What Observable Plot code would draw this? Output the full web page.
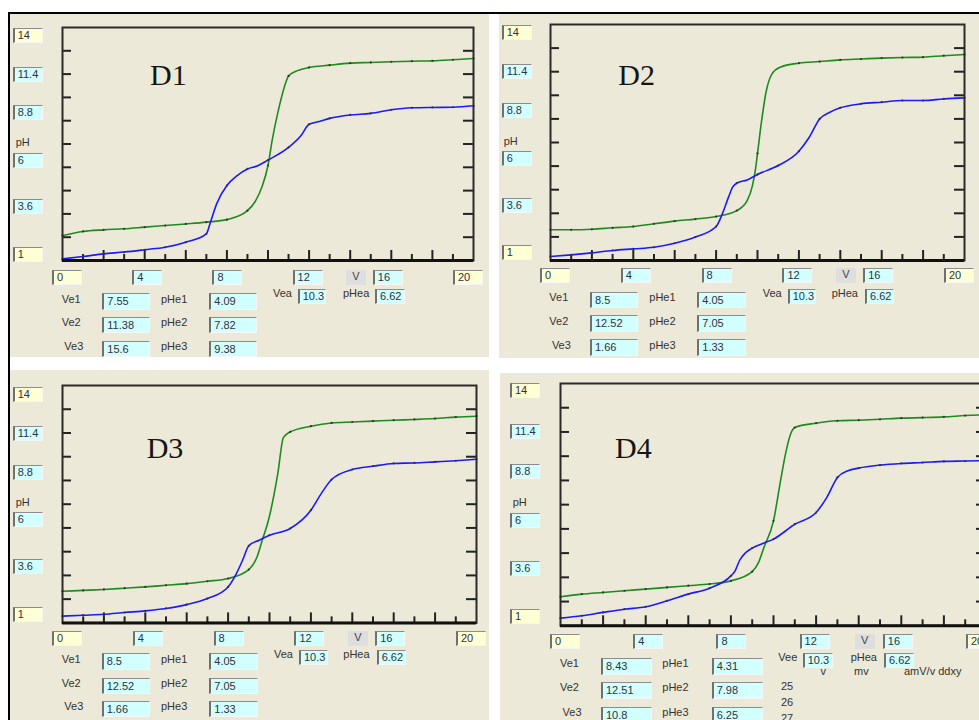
<!DOCTYPE html>
<html><head><meta charset="utf-8">
<script src="https://cdn.jsdelivr.net/npm/d3@7"></script>
<script src="https://cdn.jsdelivr.net/npm/@observablehq/plot@0.6"></script>
<style>
html,body{margin:0;padding:0;background:#fff;}
#root{position:relative;width:979px;height:720px;overflow:hidden;background:#fff;font-family:"Liberation Sans",Arial,sans-serif;}
.bg{position:absolute;background:#ece9d8;}
.blk{position:absolute;background:#000;}
.box{position:absolute;box-sizing:border-box;border-top:1px solid #8c8c8c;border-left:2px solid #707070;border-right:1px solid #f6f6f6;border-bottom:1px solid #f6f6f6;background:#d2ffff;font-size:11px;padding-left:3px;color:#303040;white-space:nowrap;overflow:hidden;}
.box.yel{background:#ffffd6;}
.vbox{position:absolute;box-sizing:border-box;background:#dedede;font-size:11px;color:#444;text-align:center;}
.lab{position:absolute;font-size:11px;color:#333;white-space:nowrap;}
.title{position:absolute;font-family:"Liberation Serif","Times New Roman",serif;font-size:30px;line-height:30px;color:#151515;}
svg{position:absolute;}
</style></head>
<body><div id="root"></div>
<script>
// ---- data ----
const titles = ["D1", "D2", "D3", "D4"];
const xTickLabelValues = [0, 4, 8, 12, 16, 20];
const yTickLabels = ["14", "11.4", "8.8", "6", "3.6", "1"];
const yInnerTicks = [2.3, 3.6, 4.9, 6.2, 7.5, 8.8, 10.1, 11.4, 12.7];
const xOddTicks = [1, 3, 5, 7, 9, 11, 13, 15, 17, 19];
const xEvenTicks = [2, 4, 6, 8, 10, 12, 14, 16, 18];

const ve1 = ["7.55", "8.5", "8.5", "8.43"];
const ve2 = ["11.38", "12.52", "12.52", "12.51"];
const ve3 = ["15.6", "1.66", "1.66", "10.8"];
const phe1 = ["4.09", "4.05", "4.05", "4.31"];
const phe2 = ["7.82", "7.05", "7.05", "7.98"];
const phe3 = ["9.38", "1.33", "1.33", "6.25"];
const veaLabel = ["Vea", "Vea", "Vea", "Vee"];
const vea = ["10.3", "10.3", "10.3", "10.3"];
const phea = ["6.62", "6.62", "6.62", "6.62"];

const d1Green = [[0,2.39],[1,2.62],[2,2.71],[3,2.77],[4,2.86],[5,2.95],[6,3.04],[7,3.14],[8,3.28],[9,3.78],[9.4,4.34],[9.7,5.09],[10,6.3],[10.2,7.69],[10.5,9.36],[10.8,10.7],[11,11.3],[11.4,11.58],[12,11.77],[13,11.9],[14,12.01],[15,12.05],[16,12.09],[17,12.12],[18,12.14],[19,12.2],[20,12.27]];
const d1Blue = [[0,1.09],[1,1.22],[2,1.37],[3,1.47],[4,1.6],[5,1.74],[6,2.02],[7,2.49],[7.2,3.14],[7.5,4.16],[8,5.18],[8.5,5.74],[9,6.11],[9.5,6.29],[10,6.6],[11,7.31],[11.6,7.96],[12,8.6],[12.5,8.76],[13,8.93],[14,9.12],[15,9.21],[16,9.41],[17,9.52],[18,9.54],[19,9.55],[20,9.63]];
const d2Green = [[0,2.69],[1,2.69],[2,2.72],[3,2.8],[4,2.87],[5,3.02],[6,3.17],[7,3.28],[8,3.42],[9,3.75],[9.5,4.3],[9.75,5.1],[9.9,6.0],[10,6.9],[10.2,8.7],[10.4,10.2],[10.7,11.28],[11.1,11.65],[12,11.87],[13,11.96],[14,12.05],[15,12.1],[16,12.15],[17,12.18],[18,12.2],[19,12.28],[20,12.35]];
const d2Blue = [[0,1.22],[1,1.31],[2,1.42],[3,1.55],[4,1.64],[5,1.73],[6,1.95],[7,2.29],[8,2.87],[8.3,3.57],[8.6,4.49],[8.8,5.04],[9,5.26],[9.5,5.44],[10,5.74],[11,6.23],[12,7.02],[12.5,7.79],[13,8.8],[13.5,9.17],[14,9.41],[15,9.63],[16,9.72],[17,9.81],[18,9.81],[19,9.9],[20,9.96]];
const d3Green = [[0,2.73],[1,2.78],[2,2.83],[3,2.9],[4,2.97],[5,3.06],[6,3.15],[7,3.28],[8,3.43],[9,3.92],[9.4,4.62],[9.65,5.53],[9.95,6.62],[10.4,9.17],[10.67,11.15],[11,11.46],[12,11.77],[13,11.95],[14,12.0],[15,12.05],[16,12.1],[17,12.14],[18,12.19],[19,12.27],[20,12.32]];
const d3Blue = [[0,1.37],[1,1.42],[2,1.47],[3,1.57],[4,1.66],[5,1.79],[6,2.0],[7,2.33],[8,2.97],[8.4,3.7],[8.7,4.43],[9,5.22],[9.5,5.53],[10,5.8],[11,6.17],[12,7.17],[12.5,8.08],[13,8.85],[14,9.4],[15,9.58],[16,9.73],[17,9.76],[18,9.82],[19,9.88],[20,9.96]];
const d4Green = [[0,2.56],[1,2.7],[2,2.79],[3,2.88],[4,2.97],[5,3.06],[6,3.15],[7,3.24],[8,3.41],[9,3.91],[9.3,4.4],[9.55,5.2],[10,6.63],[10.33,8.78],[10.56,10.2],[10.8,11.28],[11,11.64],[12,11.87],[13,12.0],[14,12.03],[15,12.08],[16,12.14],[17,12.17],[18,12.21],[19,12.28],[20,12.33]];
const d4Blue = [[0,1.41],[1,1.54],[2,1.72],[3,1.89],[4,2.02],[5,2.34],[6,2.7],[7,3.02],[8,3.68],[8.2,3.95],[8.4,4.49],[8.7,4.93],[9,5.17],[9.5,5.42],[10,5.65],[11,6.45],[12,7.08],[12.5,7.88],[13,8.96],[13.5,9.32],[14,9.46],[15,9.62],[16,9.71],[17,9.76],[18,9.82],[19,9.84],[20,9.86]];
const greens = [d1Green, d2Green, d3Green, d4Green];
const blues = [d1Blue, d2Blue, d3Blue, d4Blue];

// ---- layout (pixels) ----
const layouts = [
  {bg:[10,14,479,343], frame:[62,27,411,233], yBoxX:12.7, yBoxTops:[28,67,105.3,152.7,199.3,246.7], pH:[15.7,136], xBoxTop:270, title:[150,60],
   rows:[293.3,316.7,340.7], rowH:16.5, veLab:61.7, veBox:[102.3,48], pheLab:161, pheBox:[209.3,48], veaLab:273, veaBox:[297.7,28.5], veaTop:289.3, pheaLab:343, pheaBox:[375,29.5]},
  {bg:[499,14,480,344], frame:[550,24,414,236], yBoxX:501.7, yBoxTops:[25,64.3,103.3,150.7,197.7,245], pH:[503.7,135], xBoxTop:268.3, title:[618.3,60],
   rows:[291.7,315,339.3], rowH:16.5, veLab:549.3, veBox:[590,48.3], pheLab:649.3, pheBox:[697.3,48.7], veaLab:762.7, veaBox:[787.7,28.5], veaTop:288.7, pheaLab:831.7, pheaBox:[865,29]},
  {bg:[10,370,479,350], frame:[62,385.3,414,237.4], yBoxX:12.7, yBoxTops:[386.7,425.7,465,512.3,559.3,606.7], pH:[15.7,496], xBoxTop:630.7, title:[146.7,433.3],
   rows:[653.3,677.7,700.7], rowH:16.5, veLab:61.7, veBox:[101.7,48.3], pheLab:161, pheBox:[209.3,48.4], veaLab:274, veaBox:[299,28.7], veaTop:650, pheaLab:343.3, pheaBox:[376.7,29.3]},
  {bg:[500,373,479,347], frame:[560,382.7,426,242.3], yBoxX:510, yBoxTops:[383.3,424,464,512.7,560.7,609.3], pH:[512.7,496], xBoxTop:634, title:[615,433],
   rows:[657.7,681.7,706.7], rowH:17.3, veLab:560, veBox:[601,50.7], pheLab:662.3, pheBox:[711.7,51], veaLab:778.3, veaBox:[802.7,30.6], veaTop:653.3, pheaLab:850.7, pheaBox:[884,30]}
];

const root = document.getElementById("root");
function el(cls, left, top, w, h, text) {
  const d = document.createElement("div");
  d.className = cls;
  d.style.left = left + "px"; d.style.top = top + "px";
  if (w != null) d.style.width = w + "px";
  if (h != null) { d.style.height = h + "px"; d.style.lineHeight = (h - 2) + "px"; }
  if (text != null) d.textContent = text;
  root.appendChild(d);
  return d;
}

// outer black border lines
el("blk", 8, 12, 971, 2);
el("blk", 8, 12, 2, 708);

const m = 3;
layouts.forEach((L, i) => {
  el("bg", L.bg[0], L.bg[1], L.bg[2], L.bg[3]);
  const [fx, fy, fw, fh] = L.frame;
  const toObj = a => a.map(([v, ph]) => ({v, ph}));
  const g = toObj(greens[i]), b = toObj(blues[i]);
  const isInt = d => Number.isInteger(d.v);
  const plot = Plot.plot({
    width: fw + 2 * m, height: fh + 2 * m,
    marginTop: m, marginBottom: m, marginLeft: m, marginRight: m,
    x: {domain: [0, 20], axis: null},
    y: {domain: [1, 14], axis: null},
    style: {background: "transparent", overflow: "visible"},
    marks: [
      Plot.tickY(yInnerTicks, {y: d => d, stroke: "#222", strokeWidth: 2, insetRight: fw - 9}),
      Plot.tickY(yInnerTicks, {y: d => d, stroke: "#222", strokeWidth: 2, insetLeft: fw - 10}),
      Plot.tickX(xOddTicks, {x: d => d, stroke: "#222", strokeWidth: 2, insetTop: fh - 6}),
      Plot.tickX(xEvenTicks, {x: d => d, stroke: "#222", strokeWidth: 2, insetTop: fh - 10}),
      Plot.line(g, {x: "v", y: "ph", stroke: "#1f8a1f", strokeWidth: 1.6, curve: "monotone-x"}),
      Plot.line(b, {x: "v", y: "ph", stroke: "#1a1aff", strokeWidth: 1.6, curve: "monotone-x"}),
      Plot.dot(g, {x: "v", y: "ph", r: 1.1, fill: "#333", filter: isInt}),
      Plot.dot(b, {x: "v", y: "ph", r: 1.1, fill: "#333", filter: isInt}),
      Plot.frame({stroke: "#2a2a2a", strokeWidth: 2}),
      Plot.ruleY([1], {stroke: "#111", strokeWidth: 3})
    ]
  });
  plot.style.left = (fx - m) + "px";
  plot.style.top = (fy - m) + "px";
  root.appendChild(plot);
  const sx = plot.scale("x");
  const px = v => fx - m + sx.apply(v);

  // title
  el("title", L.title[0], L.title[1], null, null, titles[i]);

  // y tick label boxes
  yTickLabels.forEach((t, k) => {
    const yel = (k === 0 || k === yTickLabels.length - 1) ? " yel" : "";
    el("box" + yel, L.yBoxX, L.yBoxTops[k], 30, 15, t);
  });
  el("lab", L.pH[0], L.pH[1], null, 14, "pH");

  // x tick label boxes
  xTickLabelValues.forEach(v => {
    const yel = (v === 0 || v === 20) ? " yel" : "";
    el("box" + yel, px(v) - 15 + (10 - v) * 0.5, L.xBoxTop, 30, 15, String(v));
  });
  el("vbox", px(14.3) - 10, L.xBoxTop, 20, 15, "V");

  // value rows
  const veVals = [ve1[i], ve2[i], ve3[i]], pheVals = [phe1[i], phe2[i], phe3[i]];
  L.rows.forEach((top, k) => {
    el("lab", L.veLab + (k === 2 ? 2.6 : 0), top - 1.5, null, L.rowH, "Ve" + (k + 1));
    el("box", L.veBox[0], top, L.veBox[1], L.rowH, veVals[k]);
    el("lab", L.pheLab, top - 1.5, null, L.rowH, "pHe" + (k + 1));
    el("box", L.pheBox[0], top, L.pheBox[1], L.rowH, pheVals[k]);
  });
  el("lab", L.veaLab, L.veaTop - 2, null, 15, veaLabel[i]);
  el("box", L.veaBox[0], L.veaTop, L.veaBox[1], 15, vea[i]);
  el("lab", L.pheaLab, L.veaTop - 2, null, 15, "pHea");
  el("box", L.pheaBox[0], L.veaTop, L.pheaBox[1], 15, phea[i]);

  if (i === 3) {
    el("lab", 820.5, 666, null, 13, "v");
    el("lab", 854, 666, null, 13, "mv");
    el("lab", 904, 666, null, 13, "amV/v  ddxy");
    el("lab", 781, 681, null, 13, "25");
    el("lab", 781, 697, null, 13, "26");
    el("lab", 781, 713, null, 13, "27");
  }
});
</script>
</body></html>
